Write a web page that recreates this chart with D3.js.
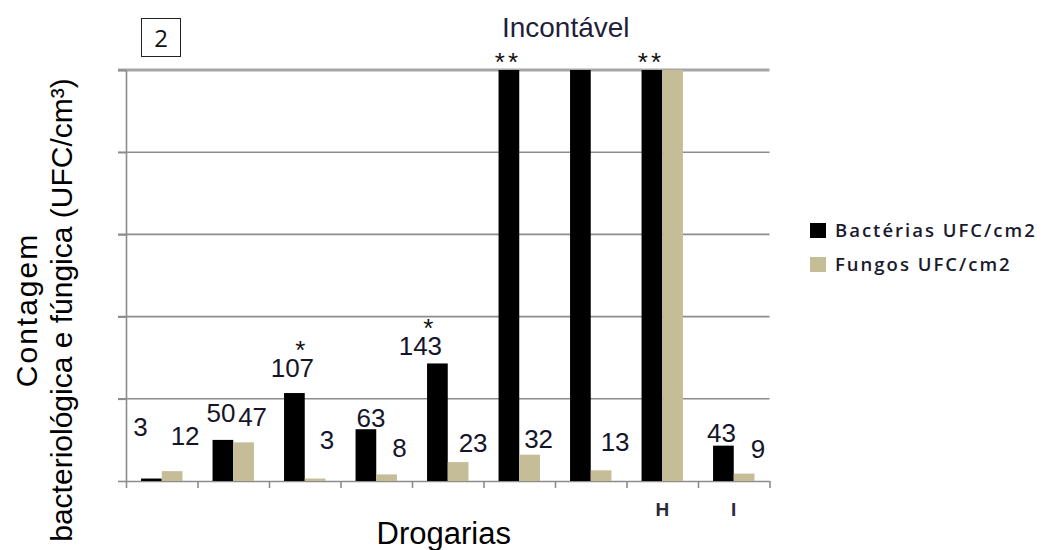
<!DOCTYPE html>
<html lang="pt">
<head>
<meta charset="utf-8">
<script src="https://cdn.jsdelivr.net/npm/d3@7"></script>
<style>
  html, body { margin: 0; padding: 0; background: #fff; }
  svg { display: block; }
</style>
</head>
<body>
<svg id="chart" width="1044" height="550"></svg>
<script>
// Drogarias A–I: contagem de bactérias e fungos (UFC/cm²)
const categories = ["A", "B", "C", "D", "E", "F", "G", "H", "I"];
const tickLabels = ["", "", "", "", "", "", "", "H", "I"];
// null = incontável (drawn up to the top of the scale)
const bacteria = [3, 50, 107, 63, 143, null, null, null, 43];
const fungi = [12, 47, 3, 8, 23, 32, 13, null, 9];
const bacteriaMarks = ["", "", "*", "", "*", "**", "", "**", ""];
const yTicks = [0, 100, 200, 300, 400, 500];
const seriesNames = ["Bactérias UFC/cm2", "Fungos UFC/cm2"];
const seriesColors = ["#000000", "#c4bd97"];

// small hand offsets for value labels (dx, dy from the bar top)
const bacteriaLabelDx = [-11, -2, -2, 5, -17, 0, 0, 0, -2];
const bacteriaLabelDy = [-43, -18, -16, -2, -8, 0, 0, 0, -4];
const fungiLabelDx = [13, 9, 12, 13, 15, 9, 14, 0, 14];
const fungiLabelDy = [-26, -16, -30, -17, -10, -7, -19, 0, -16];

const svg = d3.select("#chart");
const plotLeft = 126, plotRight = 769.5, plotTop = 70, plotBottom = 481;

const x = d3.scaleBand().domain(categories).range([plotLeft, plotRight]).padding(0);
const inner = d3.scaleBand().domain([0, 1]).range([0, x.bandwidth()])
  .paddingInner(0).paddingOuter(0.727);
const yMax = d3.max(yTicks);
const y = d3.scaleLinear().domain([0, yMax]).range([plotBottom, plotTop]);
const val = v => v == null ? yMax : v;

const rows = categories.map((c, i) => ({
  c, i, values: [bacteria[i], fungi[i]]
}));

// horizontal gridlines
svg.append("g")
  .selectAll("line")
  .data(yTicks.filter(t => t > 0))
  .join("line")
  .attr("x1", plotLeft - 8).attr("x2", plotRight)
  .attr("y1", d => y(d)).attr("y2", d => y(d))
  .attr("stroke", d => d === yMax ? "#a6a6a6" : "#8c8c8c")
  .attr("stroke-width", d => d === yMax ? 3 : 1.6);

// y axis (ticks only, no numbers)
const yAxis = svg.append("g")
  .attr("transform", `translate(${plotLeft},0)`)
  .call(d3.axisLeft(y).tickValues(yTicks).tickSize(8).tickFormat("").tickSizeOuter(0));
yAxis.selectAll("path, line").attr("stroke", "#8c8c8c").attr("stroke-width", 1.6);

// x axis: ticks at the category boundaries
const xEdge = d3.scaleLinear().domain([0, categories.length]).range([plotLeft, plotRight]);
const xAxis = svg.append("g")
  .attr("transform", `translate(0,${plotBottom})`)
  .call(d3.axisBottom(xEdge).ticks(categories.length).tickSize(7).tickFormat("").tickSizeOuter(0));
xAxis.selectAll("path, line").attr("stroke", "#8c8c8c").attr("stroke-width", 1.6);

// category labels
const xLabels = svg.append("g")
  .attr("transform", `translate(0,${plotBottom})`)
  .call(d3.axisBottom(x).tickSize(0).tickPadding(22)
    .tickFormat((d, i) => tickLabels[i]));
xLabels.select(".domain").remove();
xLabels.selectAll("text")
  .attr("font-family", "'Liberation Sans', Arial, sans-serif")
  .attr("font-size", 19).attr("font-weight", "bold").attr("fill", "#2b2b3a");

// bars
const groups = svg.append("g").selectAll("g")
  .data(rows).join("g")
  .attr("transform", d => `translate(${x(d.c)},0)`);

groups.selectAll("rect")
  .data(d => d.values.map((v, s) => ({ v, s })))
  .join("rect")
  .attr("x", d => inner(d.s))
  .attr("width", inner.bandwidth())
  .attr("y", d => y(val(d.v)))
  .attr("height", d => y(0) - y(val(d.v)))
  .attr("fill", d => seriesColors[d.s]);

// value labels
const labelFont = "'Liberation Sans', Arial, sans-serif";
const labels = svg.append("g")
  .attr("font-family", labelFont).attr("font-size", 26)
  .attr("fill", "#15152a").attr("text-anchor", "middle");

const barCenter = (r, s) => x(r.c) + inner(s) + inner.bandwidth() / 2;

rows.forEach(r => {
  if (bacteria[r.i] != null) {
    labels.append("text")
      .attr("x", barCenter(r, 0) + bacteriaLabelDx[r.i])
      .attr("y", y(bacteria[r.i]) + bacteriaLabelDy[r.i])
      .text(bacteria[r.i]);
  }
  if (fungi[r.i] != null) {
    labels.append("text")
      .attr("x", barCenter(r, 1) + fungiLabelDx[r.i])
      .attr("y", y(fungi[r.i]) + fungiLabelDy[r.i])
      .text(fungi[r.i]);
  }
});

// significance marks above the bacteria bars
svg.append("g")
  .attr("font-family", labelFont).attr("font-size", 26)
  .attr("fill", "#111").attr("text-anchor", "middle")
  .selectAll("text")
  .data(rows.filter(r => bacteriaMarks[r.i]))
  .join("text")
  .attr("x", r => bacteriaMarks[r.i] === "**"
      ? barCenter(r, 0) - 1
      : barCenter(r, 0) + bacteriaLabelDx[r.i] + 8)
  .attr("y", r => bacteriaMarks[r.i] === "**"
      ? y(yMax) + 1
      : y(bacteria[r.i]) + bacteriaLabelDy[r.i] - 18)
  .attr("letter-spacing", r => bacteriaMarks[r.i] === "**" ? 3 : 0)
  .text(r => bacteriaMarks[r.i]);

// "Incontável" note above the uncountable bars
svg.append("text")
  .attr("x", x("G") + x.bandwidth() / 2 - 25)
  .attr("y", 37)
  .attr("font-family", labelFont).attr("font-size", 28)
  .attr("fill", "#1f1f3a").attr("text-anchor", "middle")
  .text("Incontável");

// panel number box
svg.append("rect")
  .attr("x", 141.5).attr("y", 18.5).attr("width", 39).attr("height", 38)
  .attr("fill", "#fff").attr("stroke", "#222").attr("stroke-width", 1);
svg.append("text")
  .attr("x", 161).attr("y", 47)
  .attr("font-family", "'Open Sans', 'Noto Sans', sans-serif").attr("font-size", 24)
  .attr("fill", "#111").attr("text-anchor", "middle").text("2");

// axis titles
svg.append("text")
  .attr("x", (plotLeft + plotRight) / 2 - 4).attr("y", 544)
  .attr("font-family", labelFont).attr("font-size", 31)
  .attr("fill", "#000").attr("text-anchor", "middle")
  .text("Drogarias");

const yTitle = svg.append("text")
  .attr("transform", "translate(0,310) rotate(-90)")
  .attr("font-family", labelFont).attr("font-size", 30)
  .attr("fill", "#000").attr("text-anchor", "middle");
yTitle.append("tspan").attr("x", 0).attr("y", 37)
  .attr("letter-spacing", 2).text("Contagem");
yTitle.append("tspan").attr("x", 0).attr("y", 72).text("bacteriológica e fúngica (UFC/cm³)");

// legend
const legend = svg.append("g")
  .attr("font-family", "'Open Sans', 'Noto Sans', sans-serif")
  .attr("font-size", 18.5).attr("font-weight", 600).attr("fill", "#1a1a2e");
const li = legend.selectAll("g").data(seriesNames).join("g")
  .attr("transform", (d, i) => `translate(810,${223 + i * 34})`);
li.append("rect").attr("width", 16).attr("height", 15)
  .attr("fill", (d, i) => seriesColors[i]);
li.append("text").attr("x", 25).attr("y", 14)
  .attr("letter-spacing", 2).text(d => d);
</script>
</body>
</html>
